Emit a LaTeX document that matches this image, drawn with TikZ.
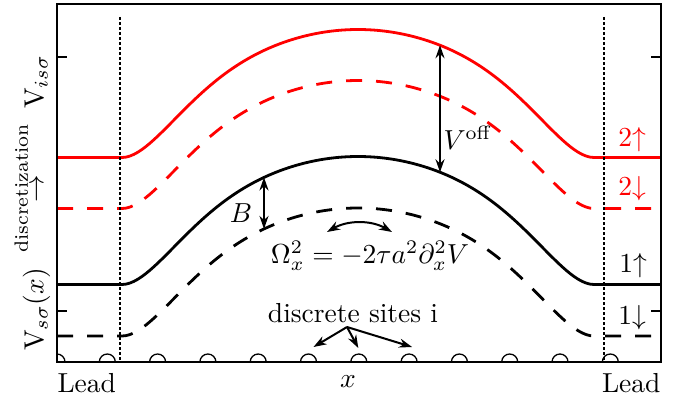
\documentclass[tikz,border=0pt]{standalone}
\usepackage{amsmath, amssymb}
\usepackage{xcolor}
\usepackage{tikz}
\usetikzlibrary{arrows.meta, calc}

\begin{document}
\begin{tikzpicture}[x=1pt, y=-1pt,
        every node/.style={inner sep=0pt, scale=2.75},
        declare function={uu(\x)=abs(\x-358)/236; bump(\x)=128*(1-uu(\x)^2-2*uu(\x)^6*(1-uu(\x)));},
        level/.style={line width=2.8pt},
        spindown/.style={dash pattern=on 16pt off 14pt},
        leadline/.style={dash pattern=on 3pt off 2pt, line width=1.4pt},
        span/.style={{Stealth[length=13pt,width=9pt]}-{Stealth[length=13pt,width=9pt]}, line width=2pt},
        pointer/.style={-{Stealth[length=13pt,width=9pt]}, line width=2pt}]
        \useasboundingbox (0,0) rectangle (684,401);

        % Potential curves
        \draw[level, red] (57,157.5) -- plot[domain=122:594, samples=120] (\x, {157.5-bump(\x)}) -- (661,157.5);
        \draw[level, red, spindown] (57,208.5) -- plot[domain=122:594, samples=120] (\x, {208.5-bump(\x)}) -- (661,208.5);
        \draw[level] (57,284.5) -- plot[domain=122:594, samples=120] (\x, {284.5-bump(\x)}) -- (661,284.5);
        \draw[level, spindown] (57,336) -- plot[domain=122:594, samples=120] (\x, {336-bump(\x)}) -- (661,336);

        % Lead boundaries
        \draw[leadline] (120,17) -- (120,362);
        \draw[leadline] (604,17) -- (604,362);

        % Sites (half circles on the axis)
        \begin{scope}
            \clip (57,4) rectangle (661,362);
            \foreach \k in {0,...,11} {
                \coordinate (site\k) at ({57+50.3*\k},362);
                \draw[line width=1.3pt] ($(site\k)+(-8,0)$) .. controls ($(site\k)+(-8,-4.42)$) and ($(site\k)+(-4.42,-8)$) .. ($(site\k)+(0,-8)$)
                    .. controls ($(site\k)+(4.42,-8)$) and ($(site\k)+(8,-4.42)$) .. ($(site\k)+(8,0)$);
            }
        \end{scope}

        % Frame and ticks
        \draw[line width=2.4pt] (57,4) rectangle (661,362);
        \foreach \ty in {57,311} {
            \draw[line width=1.4pt] (57,\ty) -- (67,\ty);
            \draw[line width=1.4pt] (661,\ty) -- (651,\ty);
        }

        % Gaps
        \coordinate (offTop) at (440, {157.5-bump(440)});
        \coordinate (offBot) at (440, {284.5-bump(440)});
        \draw[span] (offTop) -- (offBot);
        \node[anchor=west] (voff) at (443,138) {$V^{\mathrm{off}}$};

        \coordinate (bTop) at (264, {284.5-bump(264)});
        \coordinate (bBot) at (264, {336-bump(264)});
        \draw[span] (bTop) -- (bBot);
        \node (bgap) at (241,213) {$B$};

        % Hopping
        \coordinate (omL) at (327,232);
        \coordinate (omR) at (392,232);
        \draw[span] (omL) .. controls (348,220) and (371,220) .. (omR);
        \node (omega) at (370,256) {$\Omega_x^2=-2\tau a^2\partial_x^2V$};

        % Discrete sites
        \node (sites) at (353,313) {discrete sites i};
        \coordinate (fan) at (347,327);
        \draw[pointer] (fan) -- ($(site5)+(5,-15)$);
        \draw[pointer] (fan) -- ($(site6)+(-0.5,-14)$);
        \draw[pointer] (fan) -- ($(site7)+(3,-15)$);

        % Level labels
        \node[red] (up2) at (632,140) {$2{\uparrow}$};
        \node[red] (dn2) at (632,189) {$2{\downarrow}$};
        \node (up1) at (633,266) {$1{\uparrow}$};
        \node (dn1) at (632,318) {$1{\downarrow}$};

        % Axis Labels
        \node[anchor=west] (leadL) at (57,383) {Lead};
        \node[anchor=east] (leadR) at (661,383) {Lead};
        \node (xlab) at (348,382) {$x$};
        \node[rotate=90] (ylab) at (31,203) {$\mathrm{V}_{s\sigma}(x)\;\overset{\text{discretization}}{\rightarrow}\;\mathrm{V}_{is\sigma}$};
    \end{tikzpicture}
\end{document}
